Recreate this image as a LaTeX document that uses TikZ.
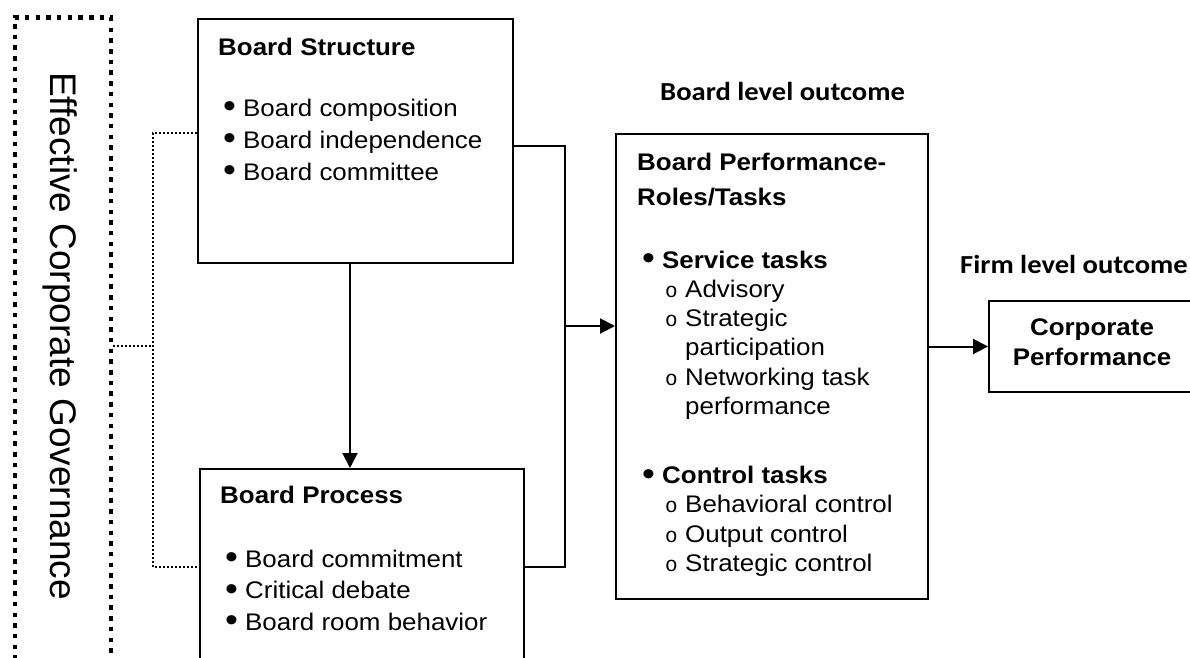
\documentclass[tikz,border=0pt]{standalone}
\usepackage{fontspec}
\setmainfont{Liberation Sans}[FakeStretch=1.08]
\newfontfamily\govfont{Liberation Sans}
\newfontfamily\ringfont{Liberation Mono}
\newfontfamily\calib{Carlito}[FakeStretch=1.1]
\usetikzlibrary{arrows.meta}
\newcommand{\blt}{\hspace*{5pt}\makebox[20pt][l]{\raisebox{-1.5pt}{\fontsize{34}{0}\selectfont\textbullet}}}
\newcommand{\sbl}{\hspace*{28pt}\makebox[20pt][l]{\ringfont\fontsize{21}{0}\selectfont o}}
\begin{document}
\begin{tikzpicture}[x=1pt,y=-1pt,
    box/.style={draw,line width=2pt,inner sep=0pt,anchor=north west},
    govbox/.style={draw,line width=4.5pt,dash pattern=on 4.5pt off 6.2pt,inner sep=0pt,anchor=north west},
    txt/.style={anchor=base west,align=left,inner sep=0pt},
    wire/.style={line width=2pt},
    arr/.style={wire,-{Triangle[length=15pt,width=15pt]}},
    thindots/.style={line width=1.8pt,dash pattern=on 1.8pt off 2.2pt},
    lvl/.style={anchor=base west,inner sep=0pt,font={\calib\bfseries\fontsize{26}{30}\selectfont}}]
  \useasboundingbox (0,0) rectangle (1190,657);

  \node[govbox,minimum width=96,minimum height=700] (gov) at (12.5,15) {};
  \node[anchor=base,rotate=-90,inner sep=0pt,font={\govfont\fontsize{37}{40}\selectfont}] (govtxt) at (50,336) {Effective Corporate Governance};

  % multi-line texts sit on the baseline of their last line
  \node[box,minimum width=315,minimum height=244] (struct) at (197,18) {};
  \node[txt,font=\fontsize{24}{32}\selectfont] (structtxt) at (218,180) {
    \textbf{Board Structure}\\[29pt]
    \blt Board composition\\
    \blt Board independence\\
    \blt Board committee};

  \node[box,minimum width=324,minimum height=230] (proc) at (199,468) {};
  \node[txt,font=\fontsize{24}{31.5}\selectfont] (proctxt) at (220,630) {
    \textbf{Board Process}\\[32.5pt]
    \blt Board commitment\\
    \blt Critical debate\\
    \blt Board room behavior};

  \node[lvl] (boardlvl) at (660,100) {Board level outcome};
  \node[box,minimum width=312,minimum height=465] (perf) at (615,133) {};
  \node[txt,font=\fontsize{24}{29.3}\selectfont] (perftxt) at (637,571.4) {
    \textbf{Board Performance-}\\[5.7pt]
    \textbf{Roles/Tasks}\\[33.7pt]
    \blt\textbf{Service tasks}\\
    \sbl Advisory\\
    \sbl Strategic\\
    \hspace*{48pt}participation\\
    \sbl Networking task\\
    \hspace*{48pt}performance\\[39.7pt]
    \blt\textbf{Control tasks}\\
    \sbl Behavioral control\\
    \sbl Output control\\
    \sbl Strategic control};

  \node[lvl] (firmlvl) at (960,273) {Firm level outcome};
  \node[box,minimum width=208,minimum height=91] (corp) at (988,300) {};
  \node[anchor=base,align=center,inner sep=0pt,font={\bfseries\fontsize{24}{30}\selectfont}] (corptxt) at (1092,365) {Corporate\\Performance};

  \coordinate (jn) at (565,326);
  \coordinate (dj) at (153,346);

  \draw[arr] ([xshift=-5.5pt]struct.south) -- ([xshift=-5.5pt]struct.south |- proc.north);
  \draw[wire] (struct.east |- 0,146) -| (jn) |- (proc.east |- 0,567);
  \draw[arr] (jn) -- (perf.west |- jn);
  \draw[arr] (perf.east |- corp.west) -- (corp.west);
  \draw[thindots] (gov.east |- dj) -- (dj);
  \draw[thindots] (struct.west |- 0,133) -| (dj) |- (proc.west |- 0,567);
\end{tikzpicture}
\end{document}
